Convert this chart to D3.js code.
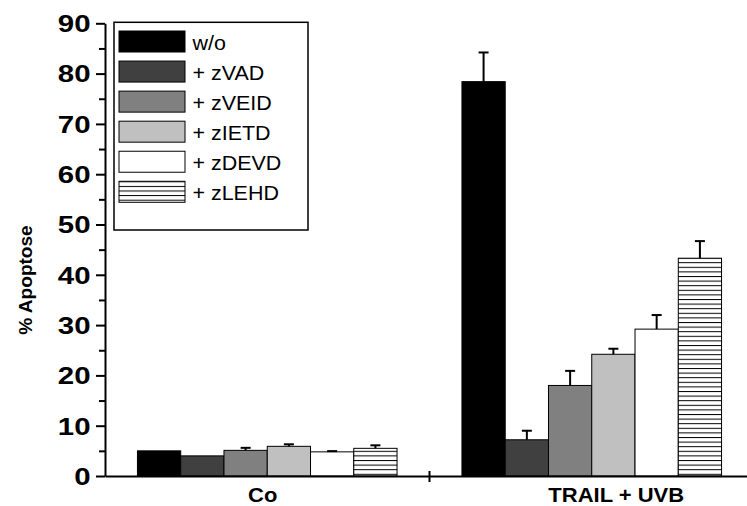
<!DOCTYPE html>
<html>
<head>
<meta charset="utf-8">
<script src="https://cdn.jsdelivr.net/npm/d3@7"></script>
<style>
  html, body { margin: 0; padding: 0; background: #fff; }
  svg { display: block; }
  text { font-family: "Liberation Sans", Arial, sans-serif; fill: #000; }
</style>
</head>
<body>
<svg id="chart" width="747" height="506"></svg>
<script>
// ---- data ----
const categories = ["Co", "TRAIL + UVB"];
const series = ["w/o", "+ zVAD", "+ zVEID", "+ zIETD", "+ zDEVD", "+ zLEHD"];
const valuesCo = [5.0, 4.0, 5.1, 5.9, 4.8, 5.5];
const errorsCo = [0, 0, 0.5, 0.4, 0.15, 0.6];
const valuesTrail = [78.4, 7.2, 18.0, 24.2, 29.2, 43.3];
const errorsTrail = [5.8, 1.8, 2.9, 1.1, 2.8, 3.4];
const yTicks = [0, 10, 20, 30, 40, 50, 60, 70, 80, 90];
const yMinorTicks = [5, 15, 25, 35, 45, 55, 65, 75, 85];
const yLabel = "% Apoptose";

const table = categories.map((c, i) => ({
  cat: c,
  vals: series.map((s, j) => ({
    s, j,
    v: (i === 0 ? valuesCo : valuesTrail)[j],
    e: (i === 0 ? errorsCo : errorsTrail)[j]
  }))
}));

// ---- styles ----
const fills = ["#000000", "#404040", "#808080", "#c0c0c0", "#ffffff", "url(#hatch)"];
const catLabelDx = [-4.5, 24.5];

const svg = d3.select("#chart");
svg.append("rect").attr("width", 747).attr("height", 506).attr("fill", "#fff");

const defs = svg.append("defs");
const pat = defs.append("pattern").attr("id", "hatch")
  .attr("patternUnits", "userSpaceOnUse").attr("width", 12).attr("height", 4.6);
pat.append("rect").attr("width", 12).attr("height", 4.6).attr("fill", "#fff");
pat.append("line").attr("x1", 0).attr("x2", 12).attr("y1", 0.5).attr("y2", 0.5)
  .attr("stroke", "#000").attr("stroke-width", 1);

const x = d3.scaleBand().domain(categories).range([105, 754])
  .paddingInner(0.2).paddingOuter(0.1);
const xs = d3.scaleBand().domain(series).range([0, x.bandwidth()]).padding(0);
const y = d3.scaleLinear().domain([0, 90]).range([476, 23.3]);

// bars
const groups = svg.append("g").selectAll("g").data(table).join("g")
  .attr("transform", d => `translate(${x(d.cat)},0)`);

groups.selectAll("rect").data(d => d.vals).join("rect")
  .attr("x", d => xs(d.s))
  .attr("y", d => y(d.v))
  .attr("width", xs.bandwidth())
  .attr("height", d => y(0) - y(d.v))
  .attr("fill", d => fills[d.j])
  .attr("stroke", "#000")
  .attr("stroke-width", 1);

// error bars
const eb = groups.selectAll("g.err").data(d => d.vals.filter(v => v.e > 0)).join("g").attr("class", "err");
eb.append("line")
  .attr("x1", d => xs(d.s) + xs.bandwidth() / 2)
  .attr("x2", d => xs(d.s) + xs.bandwidth() / 2)
  .attr("y1", d => y(d.v))
  .attr("y2", d => y(d.v + d.e))
  .attr("stroke", "#000").attr("stroke-width", 2);
eb.append("line")
  .attr("x1", d => xs(d.s) + xs.bandwidth() / 2 - 5)
  .attr("x2", d => xs(d.s) + xs.bandwidth() / 2 + 5)
  .attr("y1", d => y(d.v + d.e))
  .attr("y2", d => y(d.v + d.e))
  .attr("stroke", "#000").attr("stroke-width", 2);

// y axis minor
const yMinor = svg.append("g").attr("transform", "translate(105,0)")
  .call(d3.axisLeft(y).tickValues(yMinorTicks).tickSize(6).tickFormat(""));
yMinor.select(".domain").remove();
yMinor.selectAll("line").attr("stroke-width", 2);

// y axis major
const yAx = svg.append("g").attr("transform", "translate(105,0)")
  .call(d3.axisLeft(y).tickValues(yTicks).tickSize(9).tickSizeOuter(0));
yAx.select(".domain").attr("stroke-width", 2);
yAx.selectAll("line").attr("stroke-width", 2);
yAx.selectAll("text")
  .attr("x", 0).attr("dy", null).attr("y", 8.3)
  .attr("transform", "translate(-14.5,0) scale(1.28,1)")
  .attr("text-anchor", "end")
  .style("font-family", '"Liberation Sans", Arial, sans-serif')
  .style("font-size", "23px").style("font-weight", "bold");

// x axis
const xAx = svg.append("g").attr("transform", `translate(0,${y(0)})`)
  .call(d3.axisBottom(x).tickSize(0).tickSizeOuter(0).tickFormat(""));
xAx.select(".domain").attr("stroke-width", 2);
// boundary tick between groups
const boundary = (x(categories[0]) + x.bandwidth() + x(categories[1])) / 2;
xAx.append("line").attr("x1", boundary).attr("x2", boundary)
  .attr("y1", -5).attr("y2", 6).attr("stroke", "#000").attr("stroke-width", 2);

// category labels
svg.append("g").selectAll("text").data(categories).join("text")
  .attr("transform", (d, i) => `translate(${x(d) + x.bandwidth() / 2 + catLabelDx[i]},501.5) scale(1.1,1)`)
  .attr("text-anchor", "middle")
  .style("font-size", "20px").style("font-weight", "bold")
  .text(d => d);

// y label
svg.append("text")
  .attr("transform", "translate(31.5,280) rotate(-90) scale(1.06,1)")
  .attr("text-anchor", "middle")
  .style("font-size", "18px").style("font-weight", "bold")
  .text(yLabel);

// legend
const lg = svg.append("g");
lg.append("rect").attr("x", 114).attr("y", 22.3).attr("width", 194).attr("height", 207.7)
  .attr("fill", "#fff").attr("stroke", "#000").attr("stroke-width", 1.5);
const items = lg.selectAll("g.item").data(series).join("g").attr("class", "item")
  .attr("transform", (d, i) => `translate(119,${31 + i * 30.06})`);
items.append("rect").attr("width", 66).attr("height", 21)
  .attr("fill", (d, i) => fills[i]).attr("stroke", "#000").attr("stroke-width", 1);
items.append("text")
  .attr("transform", "translate(73.5,19) scale(1.1,1)")
  .style("font-size", "19.5px")
  .text(d => d);
</script>
</body>
</html>
